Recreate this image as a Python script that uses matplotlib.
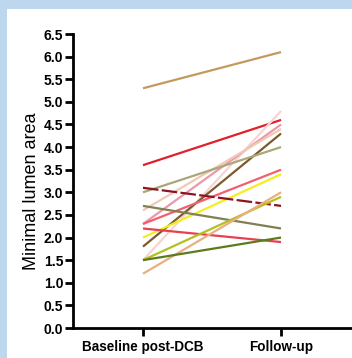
import matplotlib.pyplot as plt

# Minimal lumen area per lesion, baseline post-DCB vs follow-up
timepoints = ["Baseline post-DCB", "Follow-up"]
baseline = [5.3, 3.6, 1.5, 2.3, 2.6, 1.8, 3.0, 2.3, 2.0, 3.1, 2.7, 2.2, 1.5, 1.2, 1.5]
follow_up = [6.1, 4.6, 4.8, 4.5, 4.4, 4.3, 4.0, 3.5, 3.4, 2.7, 2.2, 1.9, 2.9, 3.0, 2.0]
colors = ["#c49a5c", "#e0202a", "#f6d4d4", "#ec98a8", "#f2c8b4", "#7d5a2c",
          "#a8a878", "#f06070", "#f2ee20", "#8c1420", "#808050", "#e84050",
          "#b4c020", "#e8b080", "#5c7c1c"]
styles = ["-"] * 9 + [(0, (7, 1.5))] + ["-"] * 5
yticks = [0.0, 0.5, 1.0, 1.5, 2.0, 2.5, 3.0, 3.5, 4.0, 4.5, 5.0, 5.5, 6.0, 6.5]

plt.rcParams["font.family"] = ["Liberation Sans", "DejaVu Sans"]

fig = plt.figure(figsize=(3.52, 3.58), dpi=100)
fig.patch.set_facecolor("#bdd7ee")

# white panel inside the blue frame
bg = fig.add_axes([7 / 352, 0, 1 - 7 / 352, 1 - 9 / 358])
bg.set_facecolor("white")
bg.set_xticks([])
bg.set_yticks([])
for s in bg.spines.values():
    s.set_visible(False)

ax = fig.add_axes([73 / 352, 30 / 358, 279 / 352, 294 / 358])
ax.set_facecolor("none")

for b, f, c, ls in zip(baseline, follow_up, colors, styles):
    ax.plot([0, 1], [b, f], color=c, lw=1.6, linestyle=ls, solid_capstyle="butt")

ax.set_xlim(-0.507, 1.514)
ax.set_ylim(0, 6.5)
ax.set_yticks(yticks)
ax.set_yticklabels([f"{v:.1f}" for v in yticks], fontsize=10, fontweight="bold")
ax.set_xticks([0, 1])
ax.set_xticklabels(timepoints, fontsize=9.75, fontweight="bold")
fig.text(31.5 / 352, 1 - 191 / 358, "Minimal lumen area", rotation=90,
         ha="center", va="center", fontsize=13)

ax.spines["top"].set_visible(False)
ax.spines["right"].set_visible(False)
ax.spines["left"].set_linewidth(2)
ax.spines["bottom"].set_linewidth(2)
ax.tick_params(axis="both", width=2, length=6, color="black", pad=1)
ax.tick_params(axis="x", pad=3)

fig.savefig("out.png", dpi=100, facecolor=fig.get_facecolor())
